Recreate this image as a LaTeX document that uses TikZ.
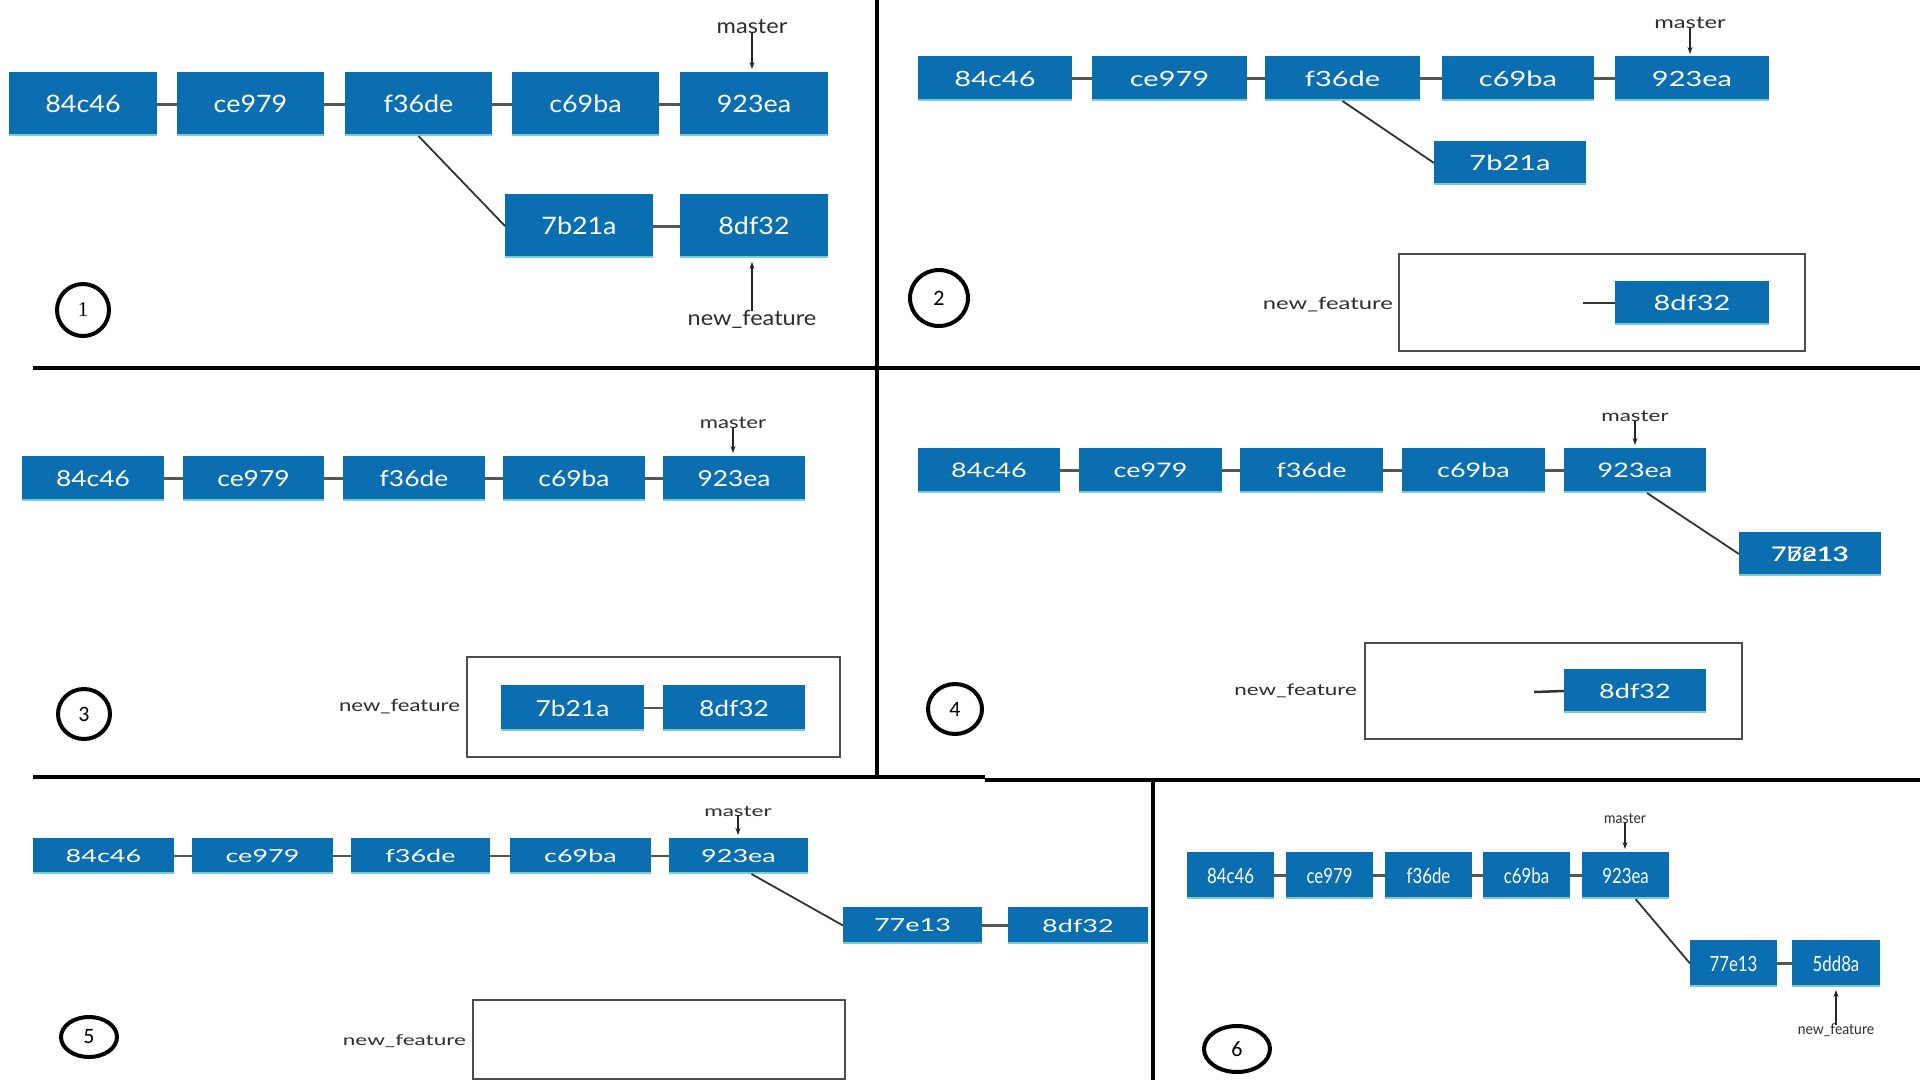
\documentclass[tikz,border=0pt]{standalone}
\usepackage{fontspec}
\usepackage{graphicx}
\setmainfont{Lato}
\newfontfamily\numfont{Carlito}
\newfontfamily\numserif{Liberation Serif}
\usetikzlibrary{shapes.geometric,arrows.meta}
\definecolor{gitblue}{RGB}{11,110,177}
\definecolor{gitteal}{RGB}{120,205,210}
\definecolor{conncol}{RGB}{85,85,85}
\definecolor{lblcol}{RGB}{45,45,45}
\def\bfs{24}\def\bxs{1.1}\def\lfs{20}\def\lxs{1.1}
\newcommand\bt[1]{\scalebox{\bxs}[1]{#1}}
\newcommand\lt[1]{\scalebox{\lxs}[1]{#1}}
\newcommand\bx[6]{\node[cbox, minimum width={(#4-#2)*1pt}, minimum height={(#5-#3)*1pt}] (#1) at ({(#2+#4)/2},{(#3+#5)/2}) {\bt{#6}};}
\newcommand\fr[5]{\node[framebox, minimum width={(#4-#2)*1pt}, minimum height={(#5-#3)*1pt}] (#1) at ({(#2+#4)/2},{(#3+#5)/2}) {};}
\tikzset{
  cbox/.style={rectangle, fill=gitblue, text=white, inner sep=0pt, outer sep=0pt,
    font=\fontsize{\bfs}{\bfs}\selectfont,
    path picture={\draw[gitteal, line width=1.6pt]
      ([yshift=0.8pt]path picture bounding box.south west) --
      ([yshift=0.8pt]path picture bounding box.south east);}},
  lbl/.style={text=lblcol, inner sep=1pt, font=\fontsize{\lfs}{\lfs}\selectfont},
  conn/.style={draw=conncol, line width=2.5pt},
  diag/.style={draw=black!80, line width=1.8pt},
  ptr/.style={draw=black!85, line width=1.3pt, -{Stealth[length=7pt,width=5pt]}},
  framebox/.style={rectangle, draw=black!70, line width=1.8pt, inner sep=0pt},
  divider/.style={line width=4.5pt, black},
  num/.style={ellipse, draw=black, line width=4pt, inner sep=0pt,
    font=\numfont\fontsize{22}{22}\selectfont},
}
\begin{document}
\begin{tikzpicture}[x=1pt,y=-1pt]
\useasboundingbox[fill=white] (0,0) rectangle (1920,1080);

% dividers
\coordinate (v1t) at (877,0);
\coordinate (v1b) at (877,778);
\draw[divider] (v1t) -- (v1b);
\coordinate (h1l) at (33,368);
\coordinate (h1r) at (1920,368);
\draw[divider] (h1l) -- (h1r);
\coordinate (h2l) at (33,777);
\coordinate (h2m) at (985,777);
\coordinate (h2n) at (985,780);
\coordinate (h2r) at (1920,780);
\draw[divider] (h2l) -- (h2m);
\draw[divider] (h2n) -- (h2r);
\coordinate (v2t) at (1153,778);
\coordinate (v2b) at (1153,1080);
\draw[divider] (v2t) -- (v2b);

% ---------- panel 1
\begin{scope}
\def\bfs{24}\def\bxs{1.12}\def\lfs{21}\def\lxs{1.12}
\bx{a1}{9}{72}{157}{136}{84c46}
\bx{b1}{177}{72}{324}{136}{ce979}
\bx{c1}{345}{72}{492}{136}{f36de}
\bx{d1}{512}{72}{659}{136}{c69ba}
\bx{e1}{680}{72}{828}{136}{923ea}
\bx{g1}{505}{194}{653}{258}{7b21a}
\bx{h1}{680}{194}{828}{258}{8df32}
\draw[conn, line width=3pt] (a1) -- (b1);
\draw[conn, line width=3pt] (b1) -- (c1);
\draw[conn, line width=3pt] (c1) -- (d1);
\draw[conn, line width=3pt] (d1) -- (e1);
\draw[conn, line width=3pt] (g1) -- (h1);
\draw[diag] (c1.south) -- (g1.west);
\node[lbl] (m1) at (752,27) {\lt{master}};
\draw[ptr] ([yshift=3pt]m1.south) -- ([yshift=3pt]m1.south |- e1.north);
\node[lbl] (n1) at (752,319) {\lt{new\_feature}};
\draw[ptr] ([yshift=-2pt]n1.north) -- ([yshift=-4pt]n1.north |- h1.south);
\node[num, minimum width=52pt, minimum height=52pt, font=\numserif\fontsize{21}{21}\selectfont] (o1) at (83,310) {1};
\end{scope}

% ---------- panel 2
\begin{scope}
\def\bfs{21}\def\bxs{1.38}\def\lfs{17}\def\lxs{1.4}
\bx{a2}{918}{56}{1072}{101}{84c46}
\bx{b2}{1092}{56}{1247}{101}{ce979}
\bx{c2}{1265}{56}{1420}{101}{f36de}
\bx{d2}{1442}{56}{1594}{101}{c69ba}
\bx{e2}{1615}{56}{1769}{101}{923ea}
\bx{g2}{1434}{141}{1586}{185}{7b21a}
\fr{fr2}{1399}{254}{1805}{351}
\bx{h2}{1615}{281}{1769}{325}{8df32}
\draw[conn] (a2) -- (b2);
\draw[conn] (b2) -- (c2);
\draw[conn] (c2) -- (d2);
\draw[conn] (d2) -- (e2);
\draw[diag] (c2.south) -- (g2.west);
\coordinate (s2) at (1583,303);
\draw[conn, draw=black!80] (s2) -- (h2.west);
\node[lbl] (m2) at (1690,23) {\lt{master}};
\draw[ptr] ([yshift=3pt]m2.south) -- ([yshift=2pt]m2.south |- e2.north);
\node[lbl, anchor=east] (n2) at ([xshift=-4pt,yshift=-2pt]fr2.west) {\lt{new\_feature}};
\node[num, minimum width=58pt, minimum height=56pt] (o2) at (939,298) {2};
\end{scope}

% ---------- panel 3
\begin{scope}
\def\bfs{22}\def\bxs{1.2}\def\lfs{17}\def\lxs{1.3}
\bx{a3}{22}{456}{164}{501}{84c46}
\bx{b3}{183}{456}{324}{501}{ce979}
\bx{c3}{343}{456}{485}{501}{f36de}
\bx{d3}{503}{456}{645}{501}{c69ba}
\bx{e3}{663}{456}{805}{501}{923ea}
\fr{fr3}{467}{657}{840}{757}
\bx{g3}{501}{685}{644}{731}{7b21a}
\bx{h3}{663}{685}{805}{731}{8df32}
\draw[conn] (a3) -- (b3);
\draw[conn] (b3) -- (c3);
\draw[conn] (c3) -- (d3);
\draw[conn] (d3) -- (e3);
\draw[conn] (g3) -- (h3);
\node[lbl] (m3) at (733,423) {\lt{master}};
\draw[ptr] ([yshift=3pt]m3.south) -- ([yshift=3pt]m3.south |- e3.north);
\node[lbl, anchor=east] (n3) at ([xshift=-5pt]fr3.west) {\lt{new\_feature}};
\node[num, minimum width=52pt, minimum height=50pt] (o3) at (84,714) {3};
\end{scope}

% ---------- panel 4
\begin{scope}
\def\bfs{20}\def\bxs{1.35}\def\lfs{16}\def\lxs{1.4}
\bx{a4}{918}{448}{1060}{493}{84c46}
\bx{b4}{1079}{448}{1222}{493}{ce979}
\bx{c4}{1240}{448}{1383}{493}{f36de}
\bx{d4}{1402}{448}{1545}{493}{c69ba}
\bx{e4}{1564}{448}{1706}{493}{923ea}
\bx{g4}{1739}{532}{1881}{576}{\rlap{77e13}7b213}
\fr{fr4}{1365}{643}{1742}{739}
\bx{h4}{1564}{669}{1706}{713}{8df32}
\draw[conn] (a4) -- (b4);
\draw[conn] (b4) -- (c4);
\draw[conn] (c4) -- (d4);
\draw[conn] (d4) -- (e4);
\draw[diag] ([xshift=12pt]e4.south) -- (g4.west);
\coordinate (s4) at (1534,692);
\draw[conn, draw=black!80] (s4) -- (h4.west);
\node[lbl] (m4) at (1635,416) {\lt{master}};
\draw[ptr] ([yshift=3pt]m4.south) -- ([yshift=3pt]m4.south |- e4.north);
\node[lbl, anchor=east] (n4) at ([xshift=-6pt]fr4.west) {\lt{new\_feature}};
\node[num, minimum width=54pt, minimum height=50pt] (o4) at (955,709) {4};
\end{scope}

% ---------- panel 5
\begin{scope}
\def\bfs{18}\def\bxs{1.5}\def\lfs{15}\def\lxs{1.5}
\bx{a5}{33}{838}{174}{874}{84c46}
\bx{b5}{192}{838}{333}{874}{ce979}
\bx{c5}{351}{838}{490}{874}{f36de}
\bx{d5}{510}{838}{651}{874}{c69ba}
\bx{e5}{669}{838}{808}{874}{923ea}
\bx{g5}{843}{907}{982}{944}{77e13}
\bx{h5}{1008}{907}{1148}{944}{8df32}
\fr{fr5}{473}{1000}{845}{1079}
\draw[conn] (a5) -- (b5);
\draw[conn] (b5) -- (c5);
\draw[conn] (c5) -- (d5);
\draw[conn] (d5) -- (e5);
\draw[conn] (g5) -- (h5);
\draw[diag] ([xshift=13pt]e5.south) -- (g5.west);
\node[lbl] (m5) at (738,812) {\lt{master}};
\draw[ptr] ([yshift=3pt]m5.south) -- ([yshift=3pt]m5.south |- e5.north);
\node[lbl, anchor=east] (n5) at ([xshift=-5pt,yshift=-2pt]fr5.west) {\lt{new\_feature}};
\node[num, minimum width=56pt, minimum height=40pt] (o5) at (89,1037) {5};
\end{scope}

% ---------- panel 6
\begin{scope}
\def\bfs{21}\def\bxs{0.8}\def\lfs{15}\def\lxs{0.93}
\bx{a6}{1187}{852}{1274}{899}{84c46}
\bx{b6}{1286}{852}{1373}{899}{ce979}
\bx{c6}{1385}{852}{1472}{899}{f36de}
\bx{d6}{1483}{852}{1570}{899}{c69ba}
\bx{e6}{1582}{852}{1669}{899}{923ea}
\bx{g6}{1690}{940}{1777}{987}{77e13}
\bx{h6}{1792}{940}{1880}{987}{5dd8a}
\draw[conn] (a6) -- (b6);
\draw[conn] (b6) -- (c6);
\draw[conn] (c6) -- (d6);
\draw[conn] (d6) -- (e6);
\draw[conn] (g6) -- (h6);
\draw[diag] ([xshift=10pt]e6.south) -- (g6.west);
\node[lbl] (m6) at (1625,819) {\lt{master}};
\draw[ptr] ([yshift=3pt]m6.south) -- ([yshift=3pt]m6.south |- e6.north);
\node[lbl] (n6) at (1836,1030) {\lt{new\_feature}};
\draw[ptr] ([yshift=-3pt]n6.north) -- ([yshift=-3pt]n6.north |- h6.south);
\node[num, minimum width=66pt, minimum height=46pt] (o6) at (1237,1049) {6};
\end{scope}
\end{tikzpicture}
\end{document}
